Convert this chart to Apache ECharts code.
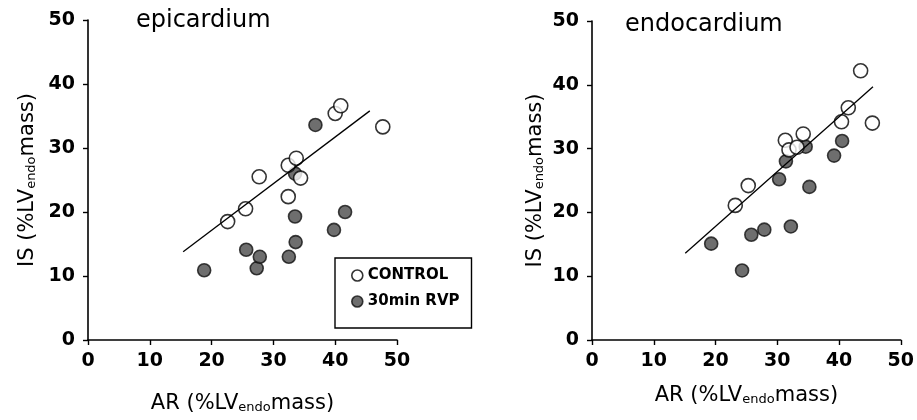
<!DOCTYPE html>
<html>
<head>
<meta charset="utf-8">
<script src="https://cdn.jsdelivr.net/npm/echarts@6/dist/echarts.min.js"></script>
<style>
  html, body { margin: 0; padding: 0; background: #fff; }
  #chart { width: 917px; height: 420px; }
</style>
</head>
<body>
<div id="chart"></div>
<script type="text/javascript">
// values: [AR, IS]
var epiControl = [[22.6,18.5],[25.5,20.5],[27.7,25.5],[32.4,22.4],[32.4,27.3],[33.7,28.4],[34.4,25.3],[40.0,35.4],[40.9,36.6],[47.7,33.3]];
var epiRvp = [[18.8,10.9],[25.6,14.1],[27.3,11.2],[27.8,13.0],[32.5,13.0],[33.5,19.3],[33.6,15.3],[33.5,26.0],[36.8,33.6],[39.8,17.2],[41.6,20.0]];
var epiFit = [[15.4,13.8],[45.6,35.8]];

var endoControl = [[23.2,21.1],[25.3,24.2],[31.3,31.3],[31.9,29.8],[33.2,30.2],[34.2,32.3],[40.4,34.2],[41.5,36.4],[43.5,42.2],[45.4,34.0]];
var endoRvp = [[19.3,15.1],[24.3,10.9],[25.8,16.5],[27.9,17.3],[30.3,25.2],[31.4,28.0],[32.2,17.8],[34.6,30.3],[35.2,24.0],[39.2,28.9],[40.5,31.2]];
var endoFit = [[15.1,13.6],[45.5,39.7]];

var panelTitles = ['epicardium', 'endocardium'];
var seriesNames = ['CONTROL', '30min RVP'];

var FONT = 'DejaVu Sans';
var openStyle = { color: '#fff', borderColor: '#000', borderWidth: 1.6 };
var filledStyle = { color: '#4a4a4a', borderColor: '#111', borderWidth: 1.6 };

var nameRich = {
	a: { fontFamily: FONT, fontSize: 21, color: '#000', lineHeight: 22, verticalAlign: 'bottom' },
	s: { fontFamily: FONT, fontSize: 13, color: '#000', lineHeight: 12, verticalAlign: 'bottom' }
};

function xAx(idx, gap) {
	return {
		gridIndex: idx, type: 'value', min: 0, max: 50, interval: 10,
		name: '{a|AR (%LV}{s|endo}{a|mass)}',
		nameLocation: 'middle', nameGap: gap,
		nameTextStyle: { rich: nameRich },
		axisLine: { onZero: false, lineStyle: { color: '#000', width: 1.6 } },
		axisTick: { inside: false, length: 5, lineStyle: { color: '#000', width: 1.4 } },
		axisLabel: { margin: 12, fontFamily: FONT, fontWeight: 'bold', fontSize: 19, color: '#000' },
		splitLine: { show: false }
	};
}
function yAx(idx, gap) {
	return {
		gridIndex: idx, type: 'value', min: 0, max: 50, interval: 10,
		name: '{a|IS (%LV}{s|endo}{a|mass)}',
		nameLocation: 'middle', nameGap: gap, nameRotate: 90,
		nameTextStyle: { rich: nameRich },
		axisLine: { onZero: false, lineStyle: { color: '#000', width: 1.6 } },
		axisTick: { inside: false, length: 5, lineStyle: { color: '#000', width: 1.4 } },
		axisLabel: { margin: 13, fontFamily: FONT, fontWeight: 'bold', fontSize: 19, color: '#000' },
		splitLine: { show: false }
	};
}

var myChart = echarts.init(document.getElementById('chart'), null, { renderer: 'canvas' });
var option = {
	animation: false,
	backgroundColor: '#fff',
	title: [
		{ text: panelTitles[0], left: 131, top: 4, textStyle: { fontFamily: FONT, fontSize: 24, fontWeight: 'normal', color: '#000' } },
		{ text: panelTitles[1], left: 620, top: 8, textStyle: { fontFamily: FONT, fontSize: 24, fontWeight: 'normal', color: '#000' } }
	],
	legend: {
		left: 335, top: 258,
		orient: 'vertical',
		padding: [10, 12, 19, 16],
		itemGap: 11,
		itemWidth: 11, itemHeight: 11,
		borderColor: '#000', borderWidth: 1.4,
		textStyle: { fontFamily: FONT, fontSize: 15, fontWeight: 'bold', color: '#000' },
		data: [
			{ name: seriesNames[0], icon: 'circle', itemStyle: openStyle },
			{ name: seriesNames[1], icon: 'circle', itemStyle: filledStyle }
		]
	},
	grid: [
		{ left: 88, top: 20, width: 309, height: 320 },
		{ left: 592, top: 21, width: 310, height: 319 }
	],
	xAxis: [xAx(0, 52), xAx(1, 44)],
	yAxis: [yAx(0, 50), yAx(1, 46)],
	series: [
		{ type: 'line', xAxisIndex: 0, yAxisIndex: 0, data: epiFit, symbol: 'none', lineStyle: { color: '#000', width: 1.3 }, silent: true },
		{ type: 'line', xAxisIndex: 1, yAxisIndex: 1, data: endoFit, symbol: 'none', lineStyle: { color: '#000', width: 1.3 }, silent: true },
		{ name: seriesNames[1], type: 'scatter', xAxisIndex: 0, yAxisIndex: 0, data: epiRvp, symbol: 'circle', symbolSize: 13, itemStyle: filledStyle },
		{ name: seriesNames[1], type: 'scatter', xAxisIndex: 1, yAxisIndex: 1, data: endoRvp, symbol: 'circle', symbolSize: 13, itemStyle: filledStyle },
		{ name: seriesNames[0], type: 'scatter', xAxisIndex: 0, yAxisIndex: 0, data: epiControl, symbol: 'circle', symbolSize: 14, itemStyle: openStyle },
		{ name: seriesNames[0], type: 'scatter', xAxisIndex: 1, yAxisIndex: 1, data: endoControl, symbol: 'circle', symbolSize: 14, itemStyle: openStyle }
	]
};
myChart.setOption(option);
</script>
</body>
</html>
